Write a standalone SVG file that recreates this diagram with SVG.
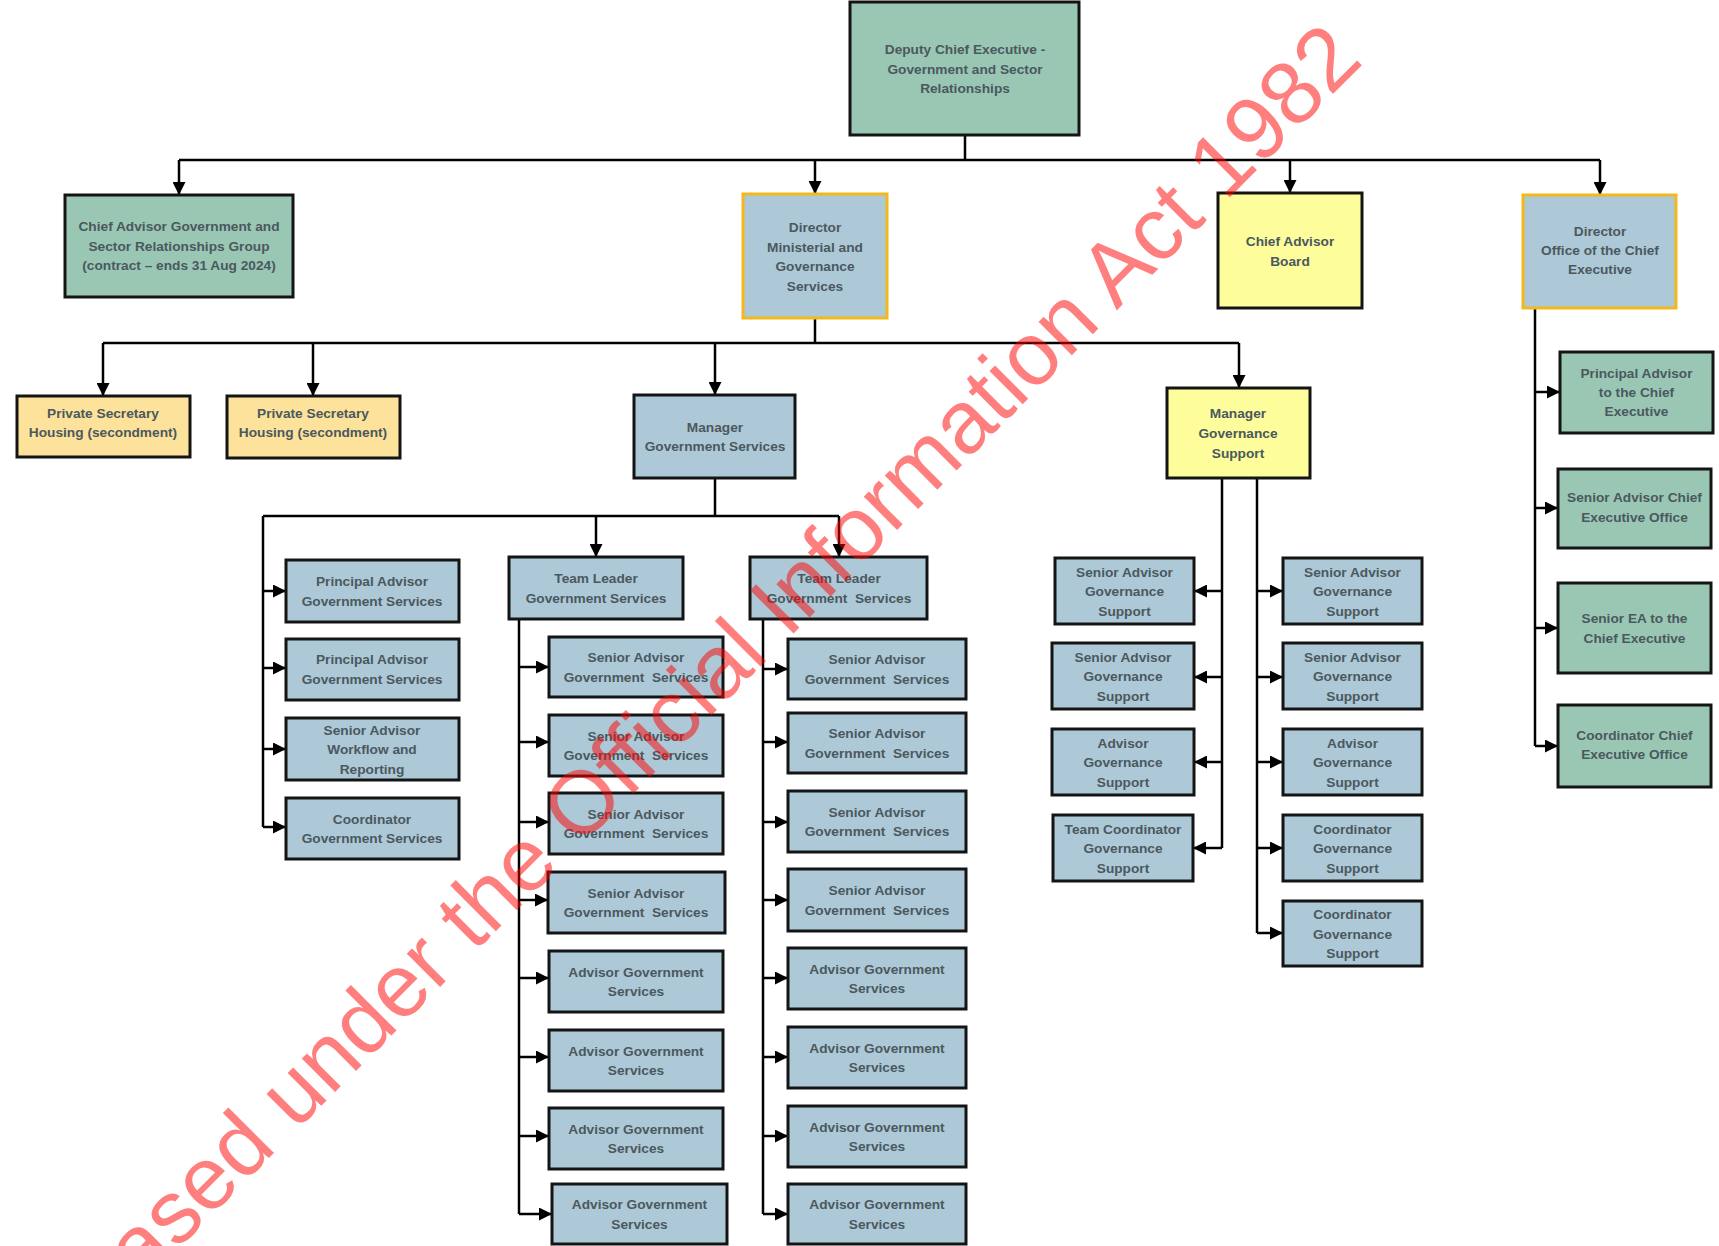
<svg xmlns="http://www.w3.org/2000/svg" width="1719" height="1246" viewBox="0 0 1719 1246">
<style>
.bx{stroke:#141414;stroke-width:3}
.blue{fill:#adc9d7}
.green{fill:#99c7b4}
.yellow{fill:#fdfd9c}
.orange{fill:#fce29a}
.gold{stroke:#f2b81c}
.t{font-family:"Liberation Sans",Arial,sans-serif;font-weight:bold;font-size:13.7px;fill:#4b585e;text-anchor:middle}
.ln{fill:none;stroke:#000;stroke-width:2.5}
.wm{font-family:"Liberation Sans",Arial,sans-serif;font-size:89px;fill:#ff0000;fill-opacity:0.5;text-anchor:end}
</style>
<defs>
<marker id="ah" markerUnits="userSpaceOnUse" markerWidth="13" markerHeight="13" refX="13" refY="6.5" orient="auto"><path d="M0,0 L13,6.5 L0,13 z" fill="#000"/></marker>
</defs>
<rect width="1719" height="1246" fill="#fff"/>
<g id="connectors">
<path class="ln" d="M965,135 V160 M179,160 H1600"/>
<path class="ln" marker-end="url(#ah)" d="M179,160 V195"/>
<path class="ln" marker-end="url(#ah)" d="M815,160 V194"/>
<path class="ln" marker-end="url(#ah)" d="M1290,160 V193"/>
<path class="ln" marker-end="url(#ah)" d="M1600,160 V195"/>
<path class="ln" d="M815,318 V343 M103,343 H1239"/>
<path class="ln" marker-end="url(#ah)" d="M103,343 V396"/>
<path class="ln" marker-end="url(#ah)" d="M313,343 V396"/>
<path class="ln" marker-end="url(#ah)" d="M715,343 V395"/>
<path class="ln" marker-end="url(#ah)" d="M1239,343 V388"/>
<path class="ln" d="M715,478 V516 M263,516 H839 M263,516 V827"/>
<path class="ln" marker-end="url(#ah)" d="M596,516 V557"/>
<path class="ln" marker-end="url(#ah)" d="M839,516 V557"/>
<path class="ln" marker-end="url(#ah)" d="M263,591 H286"/>
<path class="ln" marker-end="url(#ah)" d="M263,668 H286"/>
<path class="ln" marker-end="url(#ah)" d="M263,749 H286"/>
<path class="ln" marker-end="url(#ah)" d="M263,827 H286"/>
<path class="ln" d="M519,619 V1214"/>
<path class="ln" marker-end="url(#ah)" d="M519,667 H549"/>
<path class="ln" marker-end="url(#ah)" d="M519,742 H549"/>
<path class="ln" marker-end="url(#ah)" d="M519,822 H549"/>
<path class="ln" marker-end="url(#ah)" d="M519,900 H548"/>
<path class="ln" marker-end="url(#ah)" d="M519,978 H549"/>
<path class="ln" marker-end="url(#ah)" d="M519,1057 H549"/>
<path class="ln" marker-end="url(#ah)" d="M519,1136 H549"/>
<path class="ln" marker-end="url(#ah)" d="M519,1214 H552"/>
<path class="ln" d="M763,619 V1214"/>
<path class="ln" marker-end="url(#ah)" d="M763,669 H788"/>
<path class="ln" marker-end="url(#ah)" d="M763,742 H788"/>
<path class="ln" marker-end="url(#ah)" d="M763,822 H788"/>
<path class="ln" marker-end="url(#ah)" d="M763,900 H788"/>
<path class="ln" marker-end="url(#ah)" d="M763,978 H788"/>
<path class="ln" marker-end="url(#ah)" d="M763,1057 H788"/>
<path class="ln" marker-end="url(#ah)" d="M763,1136 H788"/>
<path class="ln" marker-end="url(#ah)" d="M763,1214 H788"/>
<path class="ln" d="M1222,478 V848 M1257,478 V933"/>
<path class="ln" marker-end="url(#ah)" d="M1222,591 H1194"/>
<path class="ln" marker-end="url(#ah)" d="M1222,677 H1194"/>
<path class="ln" marker-end="url(#ah)" d="M1222,762 H1194"/>
<path class="ln" marker-end="url(#ah)" d="M1222,848 H1193"/>
<path class="ln" marker-end="url(#ah)" d="M1257,591 H1283"/>
<path class="ln" marker-end="url(#ah)" d="M1257,677 H1283"/>
<path class="ln" marker-end="url(#ah)" d="M1257,762 H1283"/>
<path class="ln" marker-end="url(#ah)" d="M1257,848 H1283"/>
<path class="ln" marker-end="url(#ah)" d="M1257,933 H1283"/>
<path class="ln" d="M1535,308 V746"/>
<path class="ln" marker-end="url(#ah)" d="M1535,392 H1560"/>
<path class="ln" marker-end="url(#ah)" d="M1535,508 H1558"/>
<path class="ln" marker-end="url(#ah)" d="M1535,628 H1558"/>
<path class="ln" marker-end="url(#ah)" d="M1535,746 H1558"/>
</g>
<g id="dce"><rect class="bx green" x="850" y="2" width="229" height="133"/><text class="t"><tspan x="965" y="54">Deputy Chief Executive -</tspan><tspan x="965" y="73.5">Government and Sector</tspan><tspan x="965" y="93">Relationships</tspan></text></g>
<g id="chief-advisor-gsr"><rect class="bx green" x="65" y="195" width="228" height="102"/><text class="t"><tspan x="179" y="231">Chief Advisor Government and</tspan><tspan x="179" y="250.5">Sector Relationships Group</tspan><tspan x="179" y="270">(contract – ends 31 Aug 2024)</tspan></text></g>
<g id="director-mgs"><rect class="bx blue gold" x="743" y="194" width="144" height="124"/><text class="t"><tspan x="815" y="232">Director</tspan><tspan x="815" y="251.5">Ministerial and</tspan><tspan x="815" y="271">Governance</tspan><tspan x="815" y="290.5">Services</tspan></text></g>
<g id="chief-advisor-board"><rect class="bx yellow" x="1218" y="193" width="144" height="115"/><text class="t"><tspan x="1290" y="246">Chief Advisor</tspan><tspan x="1290" y="265.5">Board</tspan></text></g>
<g id="director-oce"><rect class="bx blue gold" x="1523" y="195" width="153" height="113"/><text class="t"><tspan x="1600" y="236">Director</tspan><tspan x="1600" y="255">Office of the Chief</tspan><tspan x="1600" y="274">Executive</tspan></text></g>
<g id="ps1"><rect class="bx orange" x="17" y="396" width="173" height="61"/><text class="t"><tspan x="103" y="418">Private Secretary</tspan><tspan x="103" y="437">Housing (secondment)</tspan></text></g>
<g id="ps2"><rect class="bx orange" x="227" y="396" width="173" height="62"/><text class="t"><tspan x="313" y="418">Private Secretary</tspan><tspan x="313" y="437">Housing (secondment)</tspan></text></g>
<g id="manager-gs"><rect class="bx blue" x="634" y="395" width="161" height="83"/><text class="t"><tspan x="715" y="432">Manager</tspan><tspan x="715" y="451">Government Services</tspan></text></g>
<g id="manager-gov-support"><rect class="bx yellow" x="1167" y="388" width="143" height="90"/><text class="t"><tspan x="1238" y="418">Manager</tspan><tspan x="1238" y="438">Governance</tspan><tspan x="1238" y="458">Support</tspan></text></g>
<g id="pa-gs-1"><rect class="bx blue" x="286" y="560" width="173" height="62"/><text class="t"><tspan x="372" y="586">Principal Advisor</tspan><tspan x="372" y="605.5">Government Services</tspan></text></g>
<g id="pa-gs-2"><rect class="bx blue" x="286" y="639" width="173" height="61"/><text class="t"><tspan x="372" y="664">Principal Advisor</tspan><tspan x="372" y="684">Government Services</tspan></text></g>
<g id="sa-workflow"><rect class="bx blue" x="286" y="718" width="173" height="62"/><text class="t"><tspan x="372" y="735">Senior Advisor</tspan><tspan x="372" y="754">Workflow and</tspan><tspan x="372" y="774">Reporting</tspan></text></g>
<g id="coord-gs"><rect class="bx blue" x="286" y="798" width="173" height="61"/><text class="t"><tspan x="372" y="824">Coordinator</tspan><tspan x="372" y="843">Government Services</tspan></text></g>
<g id="tl-gs-1"><rect class="bx blue" x="509" y="557" width="174" height="62"/><text class="t"><tspan x="596" y="583">Team Leader</tspan><tspan x="596" y="603">Government Services</tspan></text></g>
<g id="tl-gs-2"><rect class="bx blue" x="750" y="557" width="177" height="62"/><text class="t" xml:space="preserve"><tspan x="839" y="583">Team Leader</tspan><tspan x="839" y="603">Government  Services</tspan></text></g>
<g id="c1-1"><rect class="bx blue" x="549" y="637" width="174" height="60"/><text class="t" xml:space="preserve"><tspan x="636" y="662">Senior Advisor</tspan><tspan x="636" y="681.5">Government  Services</tspan></text></g>
<g id="c1-2"><rect class="bx blue" x="549" y="715" width="174" height="61"/><text class="t" xml:space="preserve"><tspan x="636" y="741">Senior Advisor</tspan><tspan x="636" y="760">Government  Services</tspan></text></g>
<g id="c1-3"><rect class="bx blue" x="549" y="793" width="174" height="61"/><text class="t" xml:space="preserve"><tspan x="636" y="819">Senior Advisor</tspan><tspan x="636" y="838">Government  Services</tspan></text></g>
<g id="c1-4"><rect class="bx blue" x="548" y="872" width="177" height="61"/><text class="t" xml:space="preserve"><tspan x="636" y="898">Senior Advisor</tspan><tspan x="636" y="917">Government  Services</tspan></text></g>
<g id="c1-5"><rect class="bx blue" x="549" y="951" width="174" height="61"/><text class="t"><tspan x="636" y="977">Advisor Government</tspan><tspan x="636" y="996">Services</tspan></text></g>
<g id="c1-6"><rect class="bx blue" x="549" y="1030" width="174" height="61"/><text class="t"><tspan x="636" y="1056">Advisor Government</tspan><tspan x="636" y="1075">Services</tspan></text></g>
<g id="c1-7"><rect class="bx blue" x="549" y="1108" width="174" height="61"/><text class="t"><tspan x="636" y="1134">Advisor Government</tspan><tspan x="636" y="1153">Services</tspan></text></g>
<g id="c1-8"><rect class="bx blue" x="552" y="1184" width="175" height="60"/><text class="t"><tspan x="639.5" y="1209">Advisor Government</tspan><tspan x="639.5" y="1229">Services</tspan></text></g>
<g id="c2-1"><rect class="bx blue" x="788" y="639" width="178" height="60"/><text class="t" xml:space="preserve"><tspan x="877" y="664">Senior Advisor</tspan><tspan x="877" y="683.5">Government  Services</tspan></text></g>
<g id="c2-2"><rect class="bx blue" x="788" y="713" width="178" height="60"/><text class="t" xml:space="preserve"><tspan x="877" y="738">Senior Advisor</tspan><tspan x="877" y="758">Government  Services</tspan></text></g>
<g id="c2-3"><rect class="bx blue" x="788" y="791" width="178" height="61"/><text class="t" xml:space="preserve"><tspan x="877" y="817">Senior Advisor</tspan><tspan x="877" y="836">Government  Services</tspan></text></g>
<g id="c2-4"><rect class="bx blue" x="788" y="869" width="178" height="62"/><text class="t" xml:space="preserve"><tspan x="877" y="895">Senior Advisor</tspan><tspan x="877" y="915">Government  Services</tspan></text></g>
<g id="c2-5"><rect class="bx blue" x="788" y="948" width="178" height="61"/><text class="t"><tspan x="877" y="974">Advisor Government</tspan><tspan x="877" y="993">Services</tspan></text></g>
<g id="c2-6"><rect class="bx blue" x="788" y="1027" width="178" height="61"/><text class="t"><tspan x="877" y="1053">Advisor Government</tspan><tspan x="877" y="1072">Services</tspan></text></g>
<g id="c2-7"><rect class="bx blue" x="788" y="1106" width="178" height="61"/><text class="t"><tspan x="877" y="1132">Advisor Government</tspan><tspan x="877" y="1151">Services</tspan></text></g>
<g id="c2-8"><rect class="bx blue" x="788" y="1184" width="178" height="60"/><text class="t"><tspan x="877" y="1209">Advisor Government</tspan><tspan x="877" y="1229">Services</tspan></text></g>
<g id="gl-1"><rect class="bx blue" x="1055" y="558" width="139" height="66"/><text class="t"><tspan x="1124.5" y="576.5">Senior Advisor</tspan><tspan x="1124.5" y="596">Governance</tspan><tspan x="1124.5" y="615.5">Support</tspan></text></g>
<g id="gl-2"><rect class="bx blue" x="1052" y="643" width="142" height="66"/><text class="t"><tspan x="1123" y="661.5">Senior Advisor</tspan><tspan x="1123" y="681">Governance</tspan><tspan x="1123" y="700.5">Support</tspan></text></g>
<g id="gl-3"><rect class="bx blue" x="1052" y="729" width="142" height="66"/><text class="t"><tspan x="1123" y="747.5">Advisor</tspan><tspan x="1123" y="767">Governance</tspan><tspan x="1123" y="786.5">Support</tspan></text></g>
<g id="gl-4"><rect class="bx blue" x="1053" y="815" width="140" height="66"/><text class="t"><tspan x="1123" y="833.5">Team Coordinator</tspan><tspan x="1123" y="853">Governance</tspan><tspan x="1123" y="872.5">Support</tspan></text></g>
<g id="gr-1"><rect class="bx blue" x="1283" y="558" width="139" height="66"/><text class="t"><tspan x="1352.5" y="576.5">Senior Advisor</tspan><tspan x="1352.5" y="596">Governance</tspan><tspan x="1352.5" y="615.5">Support</tspan></text></g>
<g id="gr-2"><rect class="bx blue" x="1283" y="643" width="139" height="66"/><text class="t"><tspan x="1352.5" y="661.5">Senior Advisor</tspan><tspan x="1352.5" y="681">Governance</tspan><tspan x="1352.5" y="700.5">Support</tspan></text></g>
<g id="gr-3"><rect class="bx blue" x="1283" y="729" width="139" height="66"/><text class="t"><tspan x="1352.5" y="747.5">Advisor</tspan><tspan x="1352.5" y="767">Governance</tspan><tspan x="1352.5" y="786.5">Support</tspan></text></g>
<g id="gr-4"><rect class="bx blue" x="1283" y="815" width="139" height="66"/><text class="t"><tspan x="1352.5" y="833.5">Coordinator</tspan><tspan x="1352.5" y="853">Governance</tspan><tspan x="1352.5" y="872.5">Support</tspan></text></g>
<g id="gr-5"><rect class="bx blue" x="1283" y="901" width="139" height="65"/><text class="t"><tspan x="1352.5" y="919">Coordinator</tspan><tspan x="1352.5" y="938.5">Governance</tspan><tspan x="1352.5" y="958">Support</tspan></text></g>
<g id="pa-ce"><rect class="bx green" x="1560" y="352" width="153" height="81"/><text class="t"><tspan x="1636.5" y="378">Principal Advisor</tspan><tspan x="1636.5" y="397">to the Chief</tspan><tspan x="1636.5" y="416">Executive</tspan></text></g>
<g id="sa-ceo"><rect class="bx green" x="1558" y="469" width="153" height="79"/><text class="t"><tspan x="1634.5" y="502">Senior Advisor Chief</tspan><tspan x="1634.5" y="522">Executive Office</tspan></text></g>
<g id="sea-ce"><rect class="bx green" x="1558" y="583" width="153" height="90"/><text class="t"><tspan x="1634.5" y="623">Senior EA to the</tspan><tspan x="1634.5" y="643">Chief Executive</tspan></text></g>
<g id="coord-ceo"><rect class="bx green" x="1558" y="705" width="153" height="82"/><text class="t"><tspan x="1634.5" y="740">Coordinator Chief</tspan><tspan x="1634.5" y="759">Executive Office</tspan></text></g>
<text class="wm" transform="translate(1365,62) rotate(-45)">Released under the Official Information Act 1982</text>
</svg>
